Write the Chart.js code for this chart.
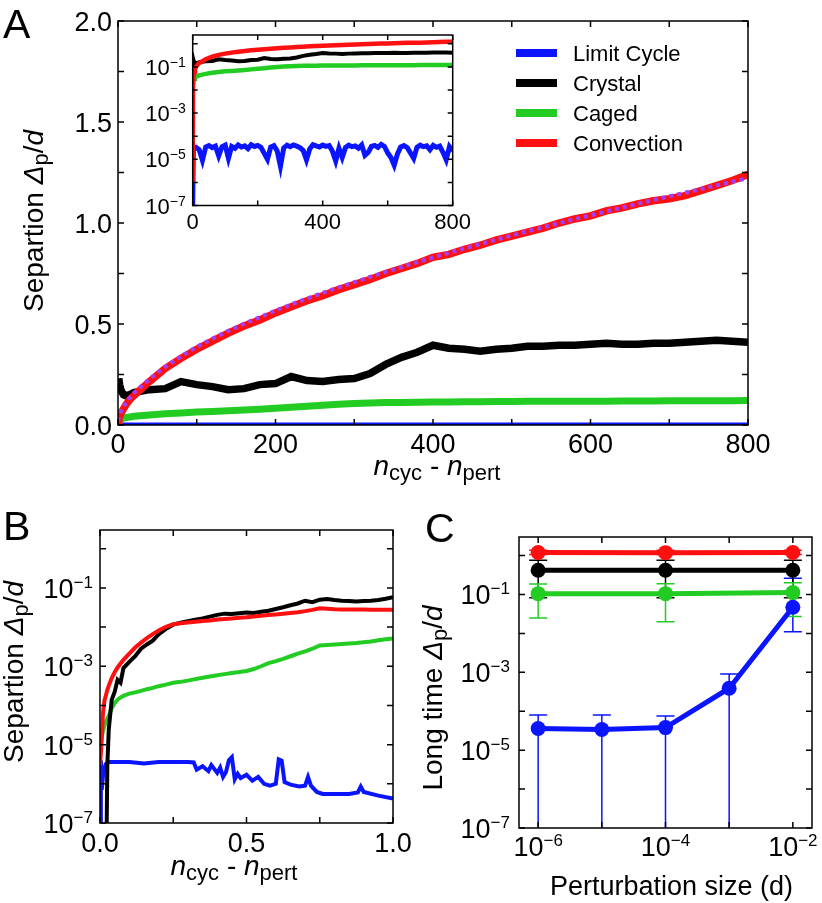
<!DOCTYPE html>
<html>
<head>
<meta charset="utf-8">
<script src="https://cdn.jsdelivr.net/npm/chart.js@4/dist/chart.umd.min.js"></script>
<style>
body { margin: 0; background: #fff; }
#wrap { position: relative; width: 822px; height: 903px; }
canvas { position: absolute; }
</style>
</head>
<body>
<div id="wrap">
  <canvas id="chartA" width="822" height="495" style="left:0;top:0"></canvas>
  <canvas id="inset" width="340" height="210" style="left:130px;top:28px"></canvas>
  <canvas id="chartB" width="411" height="408" style="left:0;top:495px"></canvas>
  <canvas id="chartC" width="411" height="408" style="left:411px;top:495px"></canvas>
</div>
<script>
const FONT = '"Liberation Sans", Arial, Helvetica, sans-serif';

// series
const seriesNames = ['Limit Cycle', 'Crystal', 'Caged', 'Convection'];
const seriesColors = ['#0a14ff', '#000000', '#22cc22', '#ff1010'];
const fitColor = '#a040ff';

// panel A (also used by the inset)
const nA = [0, 1, 2, 4, 7, 10, 15, 20, 40, 60, 80, 100, 120, 140, 160, 180, 200, 220, 240, 260, 280, 300,
  320, 340, 360, 380, 400, 420, 440, 460, 480, 500, 520, 540, 560, 580, 600, 620, 640, 660, 680, 700,
  720, 740, 760, 780, 800];
const convectionA = [0.000001, 0.03, 0.04, 0.06, 0.08, 0.1, 0.125, 0.145, 0.215, 0.28, 0.33, 0.375, 0.415,
  0.455, 0.49, 0.52, 0.555, 0.585, 0.615, 0.64, 0.67, 0.695, 0.72, 0.75, 0.775, 0.8, 0.83, 0.845, 0.87,
  0.89, 0.915, 0.935, 0.955, 0.975, 1.0, 1.02, 1.035, 1.06, 1.075, 1.095, 1.11, 1.12, 1.135, 1.16, 1.185,
  1.21, 1.24];
const fitA = [0.02, 0.035, 0.048, 0.068, 0.09, 0.108, 0.135, 0.158, 0.228, 0.288, 0.34, 0.387, 0.428,
  0.466, 0.501, 0.534, 0.566, 0.597, 0.626, 0.654, 0.681, 0.707, 0.733, 0.758, 0.782, 0.806, 0.829,
  0.852, 0.874, 0.896, 0.917, 0.938, 0.959, 0.979, 0.999, 1.019, 1.038, 1.057, 1.076, 1.095, 1.114,
  1.132, 1.15, 1.168, 1.186, 1.204, 1.222];
const crystalA = [0.21, 0.23, 0.2, 0.17, 0.15, 0.145, 0.15, 0.16, 0.175, 0.18, 0.215, 0.2, 0.19, 0.175,
  0.18, 0.2, 0.205, 0.24, 0.22, 0.215, 0.225, 0.23, 0.255, 0.3, 0.335, 0.36, 0.395, 0.38, 0.375, 0.365,
  0.375, 0.38, 0.39, 0.39, 0.395, 0.395, 0.4, 0.405, 0.4, 0.4, 0.405, 0.405, 0.41, 0.415, 0.42, 0.415, 0.41];
const cagedA = [0.018, 0.022, 0.026, 0.03, 0.034, 0.037, 0.04, 0.043, 0.05, 0.056, 0.06, 0.064, 0.067,
  0.07, 0.074, 0.078, 0.083, 0.088, 0.093, 0.098, 0.103, 0.107, 0.109, 0.111, 0.112, 0.113, 0.114, 0.114,
  0.115, 0.115, 0.116, 0.116, 0.117, 0.117, 0.117, 0.118, 0.118, 0.118, 0.119, 0.119, 0.119, 0.12, 0.12,
  0.12, 0.12, 0.12, 0.121];
const nBlueA = [0, 2, 10, 20, 30, 40, 50, 60, 70, 80, 90, 100, 110, 120, 130, 140, 150, 160, 170, 180, 190,
  200, 210, 220, 230, 240, 250, 260, 270, 280, 290, 300, 310, 320, 330, 340, 350, 360, 370, 380, 390, 400,
  410, 420, 430, 440, 450, 460, 470, 480, 490, 500, 510, 520, 530, 540, 550, 560, 570, 580, 590, 600, 610,
  620, 630, 640, 650, 660, 670, 680, 690, 700, 710, 720, 730, 740, 750, 760, 770, 780, 790, 800];
const limitCycleA = [1e-7, 3.0e-5, 3.3e-5, 2.6e-5, 0.9e-5, 3.4e-5, 3.9e-5, 3.2e-5, 3.7e-5, 1.4e-5, 3.5e-5,
  4.1e-5, 1.1e-5, 3.6e-5, 3.0e-5, 4.2e-5, 3.4e-5, 3.8e-5, 2.9e-5, 4.3e-5, 3.6e-5, 4.0e-5, 3.3e-5, 1.8e-5,
  1.0e-5, 3.4e-5, 3.9e-5, 2.3e-5, 0.5e-5, 3.1e-5, 4.1e-5, 3.5e-5, 4.2e-5, 3.7e-5, 3.2e-5, 2.4e-5, 0.95e-5,
  2.8e-5, 4.3e-5, 3.8e-5, 3.4e-5, 4.1e-5, 3.6e-5, 3.9e-5, 2.2e-5, 0.85e-5, 3.0e-5, 1.2e-5, 3.2e-5, 4.1e-5,
  3.5e-5, 3.8e-5, 3.0e-5, 4.2e-5, 1.5e-5, 2.0e-5, 3.6e-5, 4.0e-5, 3.3e-5, 4.4e-5, 3.6e-5, 1.9e-5, 1.2e-5,
  0.55e-5, 1.7e-5, 3.4e-5, 3.9e-5, 3.2e-5, 1.9e-5, 1.1e-5, 3.3e-5, 4.1e-5, 3.5e-5, 3.8e-5, 2.6e-5, 4.0e-5,
  3.3e-5, 3.7e-5, 2.0e-5, 0.95e-5, 3.5e-5, 2.3e-5];

// panel B
const tB = [0, 0.005, 0.01, 0.015, 0.02, 0.025, 0.03, 0.04, 0.05, 0.06, 0.07, 0.08, 0.1, 0.12, 0.14, 0.16,
  0.18, 0.2, 0.225, 0.25, 0.275, 0.3, 0.325, 0.35, 0.375, 0.4, 0.425, 0.45, 0.475, 0.5, 0.525, 0.55, 0.575,
  0.6, 0.625, 0.65, 0.675, 0.7, 0.725, 0.75, 0.775, 0.8, 0.825, 0.85, 0.875, 0.9, 0.925, 0.95, 0.975, 1.0];
const convectionB = [3e-6, 1e-5, 6e-5, 1.3e-4, 1.8e-4, 2.5e-4, 3.2e-4, 5e-4, 7e-4, 9.3e-4, 1.17e-3, 1.45e-3,
  2.1e-3, 3e-3, 4e-3, 5.2e-3, 6.6e-3, 8.2e-3, 0.0102, 0.0118, 0.0125, 0.013, 0.0136, 0.0142, 0.0148, 0.0155,
  0.016, 0.0166, 0.0172, 0.0178, 0.0186, 0.0194, 0.0202, 0.021, 0.0219, 0.0229, 0.024, 0.0255, 0.0275,
  0.03, 0.0295, 0.0285, 0.0282, 0.028, 0.028, 0.0279, 0.0278, 0.0278, 0.0277, 0.0277];
const crystalB = [1e-9, 1e-9, 1e-9, 1e-9, 1e-9, 3e-6, 2.5e-5, 1.4e-4, 2.2e-4, 4.5e-4, 3.8e-4, 9e-4, 1.3e-3,
  1.8e-3, 2.8e-3, 3.6e-3, 4.5e-3, 6.5e-3, 9e-3, 0.0115, 0.013, 0.0142, 0.0155, 0.0165, 0.0185, 0.0205,
  0.022, 0.0215, 0.0225, 0.0235, 0.023, 0.0245, 0.026, 0.029, 0.032, 0.036, 0.04, 0.047, 0.043, 0.05,
  0.052, 0.049, 0.047, 0.046, 0.045, 0.046, 0.047, 0.049, 0.053, 0.058];
const cagedB = [1.0e-5, 1.5e-5, 2.2e-5, 3e-5, 3.8e-5, 4.6e-5, 5.5e-5, 8.5e-5, 1.15e-4, 1.4e-4, 1.6e-4,
  1.75e-4, 2e-4, 2.15e-4, 2.35e-4, 2.6e-4, 2.8e-4, 3.1e-4, 3.4e-4, 3.8e-4, 4e-4, 4.3e-4, 4.7e-4, 5.1e-4,
  5.5e-4, 5.9e-4, 6.3e-4, 6.7e-4, 7.1e-4, 7.6e-4, 8.5e-4, 1.0e-3, 1.2e-3, 1.35e-3, 1.55e-3, 1.8e-3,
  2.1e-3, 2.4e-3, 2.8e-3, 3.4e-3, 3.5e-3, 3.6e-3, 3.7e-3, 3.8e-3, 3.9e-3, 4.1e-3, 4.3e-3, 4.6e-3,
  4.9e-3, 5.1e-3];
const tBlueB = [0, 0.003, 0.006, 0.01, 0.015, 0.02, 0.03, 0.05, 0.1, 0.15, 0.2, 0.25, 0.3, 0.32, 0.33,
  0.35, 0.37, 0.38, 0.4, 0.41, 0.42, 0.43, 0.44, 0.45, 0.46, 0.47, 0.48, 0.5, 0.52, 0.54, 0.56, 0.58, 0.6,
  0.61, 0.62, 0.63, 0.65, 0.68, 0.7, 0.71, 0.72, 0.74, 0.76, 0.8, 0.85, 0.88, 0.89, 0.9, 0.95, 1.0];
const limitCycleB = [1e-7, 4e-6, 7e-7, 1.5e-6, 2.5e-6, 3.2e-6, 3.6e-6, 3.6e-6, 3.6e-6, 3.3e-6, 3.6e-6,
  3.6e-6, 3.6e-6, 3.5e-6, 2.3e-6, 2.8e-6, 2.1e-6, 3.0e-6, 1.9e-6, 2.6e-6, 1.5e-6, 2.0e-6, 4.0e-6, 4.8e-6,
  1.3e-6, 1.8e-6, 1.4e-6, 1.7e-6, 1.2e-6, 1.5e-6, 1.0e-6, 0.9e-6, 1.0e-6, 4.2e-6, 3.9e-6, 1.1e-6,
  0.95e-6, 0.85e-6, 0.9e-6, 1.5e-6, 0.9e-6, 0.62e-6, 0.55e-6, 0.55e-6, 0.55e-6, 0.6e-6, 0.85e-6,
  0.62e-6, 0.5e-6, 0.42e-6];

// panel C
const sizeC = [1e-6, 1e-5, 1e-4, 1e-3, 1e-2];
const limitCycleC = [3.6e-5, 3.4e-5, 3.8e-5, 3.9e-4, 0.047];
const limitCycleCLo = [0, 0, 0, 0, 0.011];
const limitCycleCHi = [8e-5, 8e-5, 7.5e-5, 9e-4, 0.26];
const sizeC3 = [1e-6, 1e-4, 1e-2];
const crystalC = [0.42, 0.42, 0.42];
const crystalCLo = [0.083, 0.083, 0.083];
const crystalCHi = [0.76, 0.76, 0.76];
const cagedC = [0.105, 0.105, 0.112];
const cagedCLo = [0.025, 0.02, 0.027];
const cagedCHi = [0.185, 0.19, 0.2];
const convectionC = [1.2, 1.19, 1.2];
const convectionCLo = [1.06, 1.06, 1.06];
const convectionCHi = [1.36, 1.36, 1.36];

// ticks
const aXTicks = [0, 100, 200, 300, 400, 500, 600, 700, 800];
const aXLabels = [0, 200, 400, 600, 800];
const aYTicks = [0, 0.25, 0.5, 0.75, 1, 1.25, 1.5, 1.75, 2];
const aYLabels = [0, 0.5, 1, 1.5, 2];
const insetXTicks = [0, 200, 400, 600, 800];
const insetXLabels = [0, 400, 800];
const decades = [1e-7, 1e-6, 1e-5, 1e-4, 1e-3, 1e-2, 1e-1, 1];
const oddExp = [-7, -5, -3, -1];
const bXTicks = [0, 0.25, 0.5, 0.75, 1];
const bXLabels = [0, 0.5, 1];
const cXTicks = [1e-6, 1e-5, 1e-4, 1e-3, 1e-2];
const cXExp = [-6, -4, -2];

function fontOf(s) { return (s.italic ? 'italic ' : '') + s.size + 'px ' + FONT; }

function drawRich(ctx, segs, x, y, align) {
  let total = 0;
  const widths = segs.map(s => { ctx.font = fontOf(s); const w = ctx.measureText(s.t).width; total += w; return w; });
  let cx = align === 'center' ? x - total / 2 : align === 'right' ? x - total : x;
  ctx.textAlign = 'left';
  ctx.textBaseline = 'alphabetic';
  segs.forEach((s, i) => { ctx.font = fontOf(s); ctx.fillText(s.t, cx, y + (s.dy || 0)); cx += widths[i]; });
}

const txt = (t, size) => [{ t, size }];
const pow10 = (e, size) => [{ t: '10', size }, { t: '\u2212' + Math.abs(e), size: Math.round(size * 0.64), dy: -Math.round(size * 0.36) }];
const sepTitle = (first) => [
  { t: first, size: 28 }, { t: '\u0394', size: 28, italic: true }, { t: 'p', size: 22, dy: 5 },
  { t: '/', size: 28 }, { t: 'd', size: 28, italic: true }];
const cycTitle = [
  { t: 'n', size: 28, italic: true }, { t: 'cyc', size: 22, dy: 5 }, { t: ' - ', size: 28 },
  { t: 'n', size: 28, italic: true }, { t: 'pert', size: 22, dy: 5 }];

function vertical(ctx, segs, x, y) {
  ctx.save();
  ctx.translate(x, y);
  ctx.rotate(-Math.PI / 2);
  drawRich(ctx, segs, 0, 0, 'center');
  ctx.restore();
}

function boxPlugin(o) {
  return {
    id: 'box',
    beforeDatasetsDraw(chart) {
      const { ctx, chartArea: a } = chart;
      if (o.white) { ctx.save(); ctx.fillStyle = '#fff'; ctx.fillRect(a.left, a.top, a.width, a.height); ctx.restore(); }
      if (o.before) o.before(chart, ctx, a);
    },
    afterDatasetsDraw(chart) {
      const { ctx, chartArea: a } = chart;
      const xs = chart.scales.x, ys = chart.scales.y;
      ctx.save();
      ctx.strokeStyle = '#000';
      ctx.lineWidth = 1.5;
      ctx.beginPath();
      o.xTicks.forEach(v => {
        const p = xs.getPixelForValue(v);
        ctx.moveTo(p, a.bottom); ctx.lineTo(p, a.bottom - o.tick);
        ctx.moveTo(p, a.top); ctx.lineTo(p, a.top + o.tick);
      });
      o.yTicks.forEach(v => {
        const p = ys.getPixelForValue(v);
        ctx.moveTo(a.left, p); ctx.lineTo(a.left + o.tick, p);
        ctx.moveTo(a.right, p); ctx.lineTo(a.right - o.tick, p);
      });
      ctx.stroke();
      ctx.strokeRect(a.left, a.top, a.right - a.left, a.bottom - a.top);
      ctx.fillStyle = '#000';
      o.xLabels.forEach(([v, segs]) => drawRich(ctx, segs, xs.getPixelForValue(v), a.bottom + o.xDy, 'center'));
      o.yLabels.forEach(([v, segs]) => drawRich(ctx, segs, a.left - o.yGap, ys.getPixelForValue(v) + o.yDy, 'right'));
      if (o.after) o.after(chart, ctx, a);
      ctx.restore();
    }
  };
}

function line(label, xs, ys, color, width, order, extra) {
  return Object.assign({
    label, data: xs.map((x, i) => ({ x, y: ys[i] })),
    borderColor: color, backgroundColor: color, borderWidth: width,
    pointRadius: 0, fill: false, order
  }, extra || {});
}

function baseOptions(pad, x, y) {
  return {
    responsive: false, animation: false, devicePixelRatio: 1,
    layout: { padding: pad },
    plugins: { legend: { display: false }, tooltip: { enabled: false } },
    scales: { x: Object.assign({ display: false }, x), y: Object.assign({ display: false }, y) }
  };
}

// ---- A main
new Chart(document.getElementById('chartA'), {
  type: 'line',
  data: {
    datasets: [
      line('fit', nA, fitA, fitColor, 4, 0, { borderDash: [4, 4] }),
      line(seriesNames[3], nA, convectionA, seriesColors[3], 7.5, 1),
      line(seriesNames[2], nA, cagedA, seriesColors[2], 7, 2),
      line(seriesNames[1], nA, crystalA, seriesColors[1], 7.5, 3),
      line(seriesNames[0], nBlueA, limitCycleA, seriesColors[0], 5, 4)
    ]
  },
  options: baseOptions({ left: 118, top: 21, right: 74, bottom: 70 },
    { type: 'linear', min: 0, max: 800 }, { type: 'linear', min: 0, max: 2 }),
  plugins: [boxPlugin({
    xTicks: aXTicks, yTicks: aYTicks, tick: 6,
    xLabels: aXLabels.map(v => [v, txt(String(v), 27)]), xDy: 28,
    yLabels: aYLabels.map(v => [v, txt(v.toFixed(1), 27)]), yGap: 6, yDy: 10,
    after(chart, ctx) {
      seriesNames.forEach((name, i) => {
        const y = 53 + i * 30;
        ctx.strokeStyle = seriesColors[i];
        ctx.lineWidth = 8;
        ctx.beginPath(); ctx.moveTo(516, y); ctx.lineTo(557, y); ctx.stroke();
        ctx.fillStyle = '#000';
        drawRich(ctx, txt(name, 22), 573, y + 8, 'left');
      });
      drawRich(ctx, cycTitle, 437, 475, 'center');
      vertical(ctx, sepTitle('Separtion '), 43, 221);
      drawRich(ctx, txt('A', 41), 3, 38, 'left');
    }
  })]
});

// ---- A inset
new Chart(document.getElementById('inset'), {
  type: 'line',
  data: {
    datasets: [
      line(seriesNames[3], nA, convectionA, seriesColors[3], 4.5, 1),
      line(seriesNames[1], nA, crystalA, seriesColors[1], 4, 2),
      line(seriesNames[2], nA, cagedA, seriesColors[2], 4.5, 3),
      line(seriesNames[0], nBlueA, limitCycleA, seriesColors[0], 5, 4)
    ]
  },
  options: baseOptions({ left: 62.7, top: 7, right: 17.3, bottom: 32.5 },
    { type: 'linear', min: 0, max: 800 }, { type: 'logarithmic', min: 1e-7, max: 2.4 }),
  plugins: [boxPlugin({
    white: true, xTicks: insetXTicks, yTicks: decades, tick: 5,
    xLabels: insetXLabels.map(v => [v, txt(String(v), 22)]), xDy: 23,
    yLabels: oddExp.map(e => [Math.pow(10, e), pow10(e, 22)]), yGap: 7, yDy: 8
  })]
});

// ---- B
new Chart(document.getElementById('chartB'), {
  type: 'line',
  data: {
    datasets: [
      line(seriesNames[3], tB, convectionB, seriesColors[3], 4, 1),
      line(seriesNames[1], tB, crystalB, seriesColors[1], 4, 2),
      line(seriesNames[2], tB, cagedB, seriesColors[2], 4, 3),
      line(seriesNames[0], tBlueB, limitCycleB, seriesColors[0], 4, 4)
    ]
  },
  options: baseOptions({ left: 100, top: 35, right: 18, bottom: 80 },
    { type: 'linear', min: 0, max: 1 }, { type: 'logarithmic', min: 1e-7, max: 3 }),
  plugins: [boxPlugin({
    xTicks: bXTicks, yTicks: decades, tick: 6,
    xLabels: bXLabels.map(v => [v, txt(v.toFixed(1), 27)]), xDy: 29,
    yLabels: oddExp.map(e => [Math.pow(10, e), pow10(e, 27)]), yGap: 7, yDy: 10,
    after(chart, ctx) {
      drawRich(ctx, cycTitle, 234, 380, 'center');
      vertical(ctx, sepTitle('Separtion '), 23, 177);
      drawRich(ctx, txt('B', 41), 3, 45, 'left');
    }
  })]
});

// ---- C
const markerOpts = { pointRadius: 7.5, pointHoverRadius: 7.5, pointBorderWidth: 0 };
new Chart(document.getElementById('chartC'), {
  type: 'line',
  data: {
    datasets: [
      line(seriesNames[0], sizeC, limitCycleC, seriesColors[0], 5, 0,
        Object.assign({ errLo: limitCycleCLo, errHi: limitCycleCHi }, markerOpts)),
      line(seriesNames[3], sizeC3, convectionC, seriesColors[3], 5, 1,
        Object.assign({ errLo: convectionCLo, errHi: convectionCHi }, markerOpts)),
      line(seriesNames[1], sizeC3, crystalC, seriesColors[1], 5, 2,
        Object.assign({ errLo: crystalCLo, errHi: crystalCHi }, markerOpts)),
      line(seriesNames[2], sizeC3, cagedC, seriesColors[2], 5, 3,
        Object.assign({ errLo: cagedCLo, errHi: cagedCHi }, markerOpts))
    ]
  },
  options: baseOptions({ left: 108, top: 42, right: 10, bottom: 75 },
    { type: 'logarithmic', min: 5e-7, max: 2e-2 }, { type: 'logarithmic', min: 1e-7, max: 3 }),
  plugins: [boxPlugin({
    xTicks: cXTicks, yTicks: decades, tick: 6,
    xLabels: cXExp.map(e => [Math.pow(10, e), pow10(e, 27)]), xDy: 28,
    yLabels: oddExp.map(e => [Math.pow(10, e), pow10(e, 27)]), yGap: 9, yDy: 10,
    before(chart, ctx, a) {
      const xs = chart.scales.x, ys = chart.scales.y;
      ctx.save();
      ctx.lineWidth = 1.5;
      chart.data.datasets.forEach(ds => {
        ctx.strokeStyle = ds.borderColor;
        ctx.beginPath();
        ds.data.forEach((p, i) => {
          const px = xs.getPixelForValue(p.x);
          const lo = ds.errLo[i] > 0 ? Math.min(ys.getPixelForValue(ds.errLo[i]), a.bottom) : a.bottom;
          const hi = ys.getPixelForValue(ds.errHi[i]);
          ctx.moveTo(px, lo); ctx.lineTo(px, hi);
          ctx.moveTo(px - 9, hi); ctx.lineTo(px + 9, hi);
          if (ds.errLo[i] > 0) { ctx.moveTo(px - 9, lo); ctx.lineTo(px + 9, lo); }
        });
        ctx.stroke();
      });
      ctx.restore();
    },
    after(chart, ctx) {
      drawRich(ctx, txt('Perturbation size (d)', 27), 260.5, 400, 'center');
      vertical(ctx, sepTitle('Long time '), 31, 203);
      drawRich(ctx, txt('C', 41), 14, 47, 'left');
    }
  })]
});
</script>
</body>
</html>
